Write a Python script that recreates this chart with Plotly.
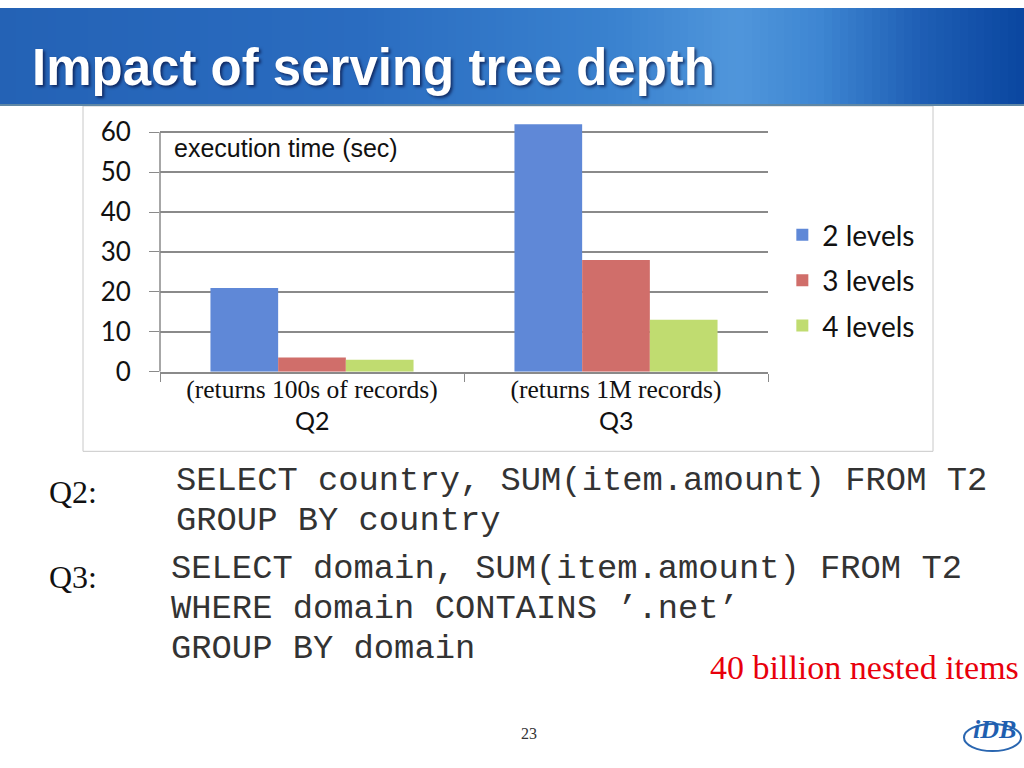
import plotly.graph_objects as go

# ---- data ----
categories = ["Q2", "Q3"]
category_notes = ["(returns 100s of records)", "(returns 1M records)"]
series_names = ["2 levels", "3 levels", "4 levels"]
values_2_levels = [21, 62]   # Q3 bar is broken (exceeds the axis)
values_3_levels = [3.6, 28]
values_4_levels = [3.0, 13]
y_ticks = [0, 10, 20, 30, 40, 50, 60]

series_values = [values_2_levels, values_3_levels, values_4_levels]
series_colors = ["#5f88d7", "#d06e6a", "#c0dc70"]

W, H = 1024, 768
def px_x(p): return p / W
def px_y(p): return 1 - p / H

fig = go.Figure()
for name, vals, col in zip(series_names, series_values, series_colors):
    fig.add_trace(go.Bar(
        name=name, x=categories, y=vals, marker=dict(color=col, line=dict(width=0)),
        legendgroup=name, hoverinfo="skip",
    ))

fig.update_layout(
    width=W, height=H,
    margin=dict(l=0, r=0, t=0, b=0),
    paper_bgcolor="white", plot_bgcolor="rgba(0,0,0,0)",
    barmode="group", bargap=0.332, bargroupgap=0,
    showlegend=True,
    legend=dict(x=0.764, y=px_y(281), xanchor="left", yanchor="middle",
                font=dict(family="Lato", size=28, color="#111"),
                tracegroupgap=6, bgcolor="rgba(0,0,0,0)", itemclick=False),
    xaxis=dict(domain=[px_x(160), px_x(768)], range=[-0.5, 1.5],
               type="category", tickmode="array", tickvals=categories, ticktext=category_notes,
               tickson="boundaries", ticks="outside", ticklen=8, tickcolor="#8a8a8a",
               showline=True, linecolor="#8a8a8a", linewidth=1.5, showgrid=False,
               tickfont=dict(family="Liberation Serif", size=25.5, color="#111"),
               ticklabelstandoff=-6, anchor="y", fixedrange=True),
    yaxis=dict(domain=[px_y(375), px_y(119)], range=[0, 62.2],
               tickmode="array", tickvals=y_ticks, ticks="outside", ticklen=10,
               tickcolor="#8a8a8a", showline=False, showgrid=True,
               gridcolor="#8a8a8a", gridwidth=1.5, zeroline=False,
               tickfont=dict(family="Lato", size=26, color="#111"),
               ticklabelstandoff=13, anchor="x", fixedrange=True),
)

shapes = []
# title bar gradient
stops = [(0.0, (36, 98, 181)), (0.35, (42, 108, 192)), (0.6, (58, 130, 207)),
         (0.72, (80, 150, 219)), (0.8, (62, 134, 210)), (0.9, (30, 94, 180)),
         (1.0, (10, 70, 160))]
def grad(t):
    for (a, ca), (b, cb) in zip(stops[:-1], stops[1:]):
        if a <= t <= b:
            f = (t - a) / (b - a)
            return "rgb(%d,%d,%d)" % tuple(round(ca[i] + (cb[i] - ca[i]) * f) for i in range(3))
    return "rgb(10,70,160)"
n = 128
for i in range(n):
    shapes.append(dict(type="rect", xref="paper", yref="paper",
                       x0=i / n, x1=(i + 1) / n + 0.001, y0=px_y(100), y1=1,
                       fillcolor=grad((i + 0.5) / n), line=dict(width=0), layer="below"))
shapes.append(dict(type="line", xref="paper", yref="paper", x0=0, x1=1,
                   y0=px_y(100), y1=px_y(100), line=dict(color="rgb(95,135,165)", width=2)))
# chart frame
shapes.append(dict(type="rect", xref="paper", yref="paper",
                   x0=px_x(83), x1=px_x(933), y0=px_y(457), y1=px_y(101),
                   line=dict(color="#c8c8c8", width=1), layer="below"))
# vertical value axis line
shapes.append(dict(type="line", xref="paper", yref="y", x0=px_x(160), x1=px_x(160),
                   y0=0, y1=60, line=dict(color="#8a8a8a", width=1.5)))
# logo swoosh
shapes.append(dict(type="circle", xref="paper", yref="paper",
                   x0=px_x(964), x1=px_x(1021), y0=px_y(766), y1=px_y(738),
                   line=dict(color="#2a66b0", width=2), layer="below"))
fig.update_layout(shapes=shapes)

def note(text, x, y, xanchor, font, align="left"):
    return dict(text=text, x=px_x(x), y=px_y(y), xref="paper", yref="paper",
                xanchor=xanchor, yanchor="middle", align=align, showarrow=False, font=font)

mono = dict(family="Liberation Mono", size=33.8, color="#333")
annotations = [
    note("<b>Impact of serving tree depth</b>", 30, 61, "left",
         dict(family="Liberation Sans", size=51, color="white",
              shadow="2px 2px 3px rgba(0,0,40,0.6)")),
    note("execution time (sec)", 172, 144, "left",
         dict(family="Liberation Sans", size=25, color="#111")),
    note("Q2:", 47, 499, "left", dict(family="Liberation Serif", size=32, color="#111")),
    note("SELECT country, SUM(item.amount) FROM T2", 174, 488, "left", mono),
    note("GROUP BY country", 174, 529, "left", mono),
    note("Q3:", 47, 587, "left", dict(family="Liberation Serif", size=32, color="#111")),
    note("SELECT domain, SUM(item.amount) FROM T2", 169, 578, "left", mono),
    note("WHERE domain CONTAINS \u2019.net\u2019", 169, 620, "left", mono),
    note("GROUP BY domain", 169, 661, "left", mono),
    note("40 billion nested items", 1021, 680, "right",
         dict(family="Liberation Serif", size=34, color="#e8000b")),
    note("23", 529, 748, "center", dict(family="Liberation Serif", size=16, color="#333")),
    note("<b><i>iDB</i></b>", 994, 744, "center",
         dict(family="Liberation Serif", size=26, color="#1f5fb0")),
]
for cat in categories:
    annotations.append(dict(text=cat, x=cat, y=px_y(425), xref="x", yref="paper",
                            xanchor="center", yanchor="middle", showarrow=False,
                            font=dict(family="Lato", size=25, color="#111")))
fig.update_layout(annotations=annotations)

fig.write_html(
    "out.html", config={"displayModeBar": False},
    post_script=("var d=document.getElementById('{plot_id}');"
                 "d.style.position='fixed';d.style.left='0px';d.style.top='0px';"
                 "document.body.style.margin='0';document.body.style.overflow='hidden';"))
